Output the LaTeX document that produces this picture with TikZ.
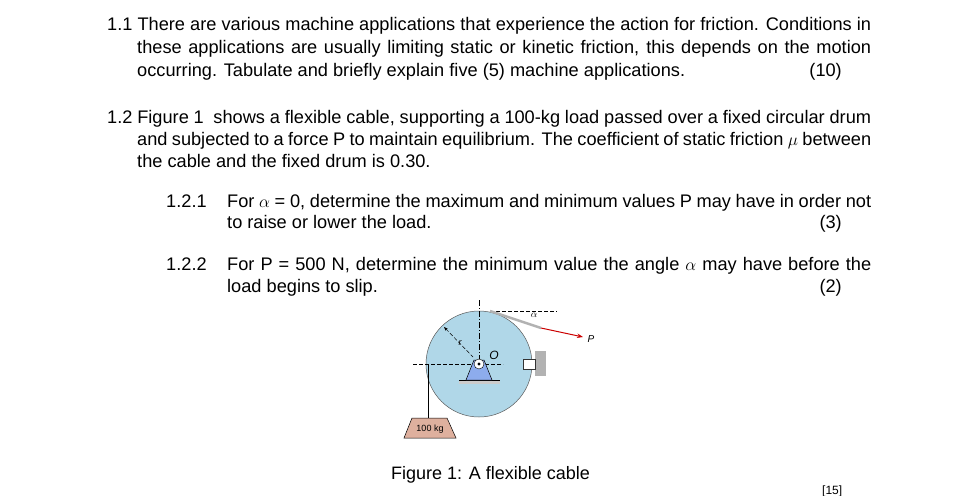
\documentclass[tikz,border=0pt]{standalone}
\usepackage{fontspec}
\setmainfont{Liberation Sans}
\usetikzlibrary{arrows.meta}
\definecolor{drum}{RGB}{176,215,232}
\definecolor{wt}{RGB}{222,176,158}
\tikzset{txt/.style={anchor=base west,inner sep=0pt,font=\fontsize{18.2}{21}\selectfont},
 mark3/.style={anchor=base east,inner sep=0pt,font=\fontsize{18.2}{21}\selectfont},
 cl/.style={line width=0.5pt,dash pattern=on 4pt off 2pt}}
\begin{document}
\begin{tikzpicture}[x=1pt,y=-1pt]
\useasboundingbox[fill=white] (0,0) rectangle (968,495);
\node[txt] (l1) at (107,31) {\makebox[764pt][s]{1.1 There are various machine applications that experience the action for friction. Conditions in}};
\node[txt] (l2) at (137,54) {\makebox[734pt][s]{these applications are usually limiting static or kinetic friction, this depends on the motion}};
\node[txt] (l3) at (137,77) {occurring. Tabulate and briefly explain five (5) machine applications.};
\node[mark3] (m1) at (842,77) {(10)};
\node[txt] (l4) at (107,123) {\makebox[764pt][s]{1.2 Figure 1\ \ shows a flexible cable, supporting a 100-kg load passed over a fixed circular drum}};
\node[txt] (l5) at (137,145) {\makebox[734pt][s]{and subjected to a force P to maintain equilibrium. The coefficient of static friction $\mu$ between}};
\node[txt] (l6) at (137,167) {the cable and the fixed drum is 0.30.};
\node[txt] (a1) at (166,207) {1.2.1};
\node[txt] (a2) at (227,207) {\makebox[644pt][s]{For $\alpha$ = 0, determine the maximum and minimum values P may have in order not}};
\node[txt] (a3) at (227,228) {to raise or lower the load.};
\node[mark3] (m2) at (842,228) {(3)};
\node[txt] (b1) at (166,270) {1.2.2};
\node[txt] (b2) at (227,270) {\makebox[644pt][s]{For P = 500 N, determine the minimum value the angle $\alpha$ may have before the}};
\node[txt] (b3) at (227,292) {load begins to slip.};
\node[mark3] (m3) at (842,292) {(2)};
\node[txt,font=\fontsize{18}{21}\selectfont] (cap) at (391,479) {Figure 1: A flexible cable};
\node[txt,font=\fontsize{12}{14}\selectfont] (m4) at (822,494) {[15]};
\coordinate (O) at (479,364);
\fill[drum] (O) circle (53);
\draw[gray!70!black,line width=0.5pt] (O) circle (53);
\fill[gray!60] (535,351) rectangle (546,376);
\draw[fill=white,draw=gray!40!black] (523,359) rectangle (535,369);
\draw[cl,dash pattern=on 6pt off 2pt on 1pt off 2pt] (479,300) -- (479,372);
\draw[cl] (413,364) -- (503,364);
\draw[cl] (490,311) -- (557,311);
\fill[gray!40] (459,380) rectangle (500,384);
\draw[line width=0.6pt] (459,380) -- (500,380);
\draw[fill=drum!80!blue,line width=0.5pt] (466,380) -- (474,360) -- (484,360) -- (492,380) -- cycle;
\draw[fill=white] (O) circle (5);
\fill (O) circle (1.6);
\node[font=\itshape\fontsize{12}{13}\selectfont,inner sep=0pt] (Ol) at (494,355) {O};
\draw[cl,{Stealth[length=4pt]}-] (444,327) -- (473,357);
\node[font=\itshape\fontsize{9}{10}\selectfont,inner sep=0pt] (rl) at (460,343) {r};
\draw[line width=0.6pt] (428,364) -- (428,418);
\draw[gray!60,line width=2.5pt] (490,311) -- (541,328);
\draw[red!80!black,line width=1pt,-{Stealth[length=6pt]}] (541,328) -- (583,337);
\node[font=\itshape\fontsize{10}{11}\selectfont,inner sep=0pt] (Pl) at (591,339) {P};
\node[font=\fontsize{10}{11}\selectfont,inner sep=0pt] (al) at (534,315) {$\alpha$};
\draw[fill=wt,line width=0.5pt] (412,418) -- (447,418) -- (456,438) -- (404,438) -- cycle;
\node[font=\fontsize{9}{10}\selectfont,inner sep=0pt] (w) at (430,429) {100 kg};
\end{tikzpicture}
\end{document}
